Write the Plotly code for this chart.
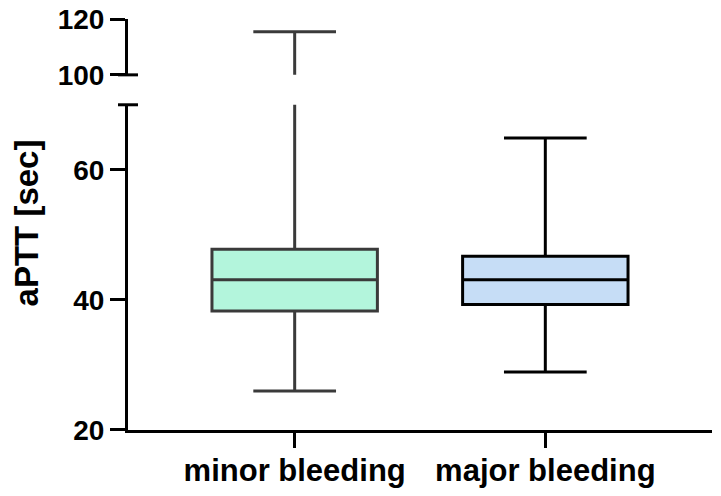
import plotly.graph_objects as go

# aPTT box plot values
groups = ["minor bleeding", "major bleeding"]
lower_whisker = [26.0, 28.9]
q1_vals = [38.3, 39.3]
median_vals = [43.1, 43.1]
q3_vals = [47.8, 46.7]
upper_whisker = [115.4, 64.9]

fills = ["#b3f5dc", "#c6ddf6"]
edges = ["#3a3a3a", "#000000"]

lower_ticks = [20, 40, 60]
upper_ticks = [100, 120]

FONT = "Liberation Sans, Arial, sans-serif"

fig = go.Figure()

# same boxes drawn on both segments of the broken axis
for yax in ["y", "y2"]:
    for i, g in enumerate(groups):
        fig.add_trace(go.Box(
            x=[g],
            q1=[q1_vals[i]],
            median=[median_vals[i]],
            q3=[q3_vals[i]],
            lowerfence=[lower_whisker[i]],
            upperfence=[upper_whisker[i]],
            width=0.66,
            whiskerwidth=0.5,
            fillcolor=fills[i],
            line=dict(color=edges[i], width=3),
            boxpoints=False,
            hoverinfo="skip",
            showlegend=False,
            xaxis="x",
            yaxis=yax,
        ))

low_top = 0.7913
up_bot = 0.8641

axis_style = dict(
    showline=True, linewidth=3, linecolor="black",
    ticks="outside", ticklen=15, tickwidth=3, tickcolor="black",
    showgrid=False, zeroline=False, automargin=False,
    ticklabeloverflow="allow",
    tickfont=dict(family=FONT, size=28, color="black", weight="bold"),
)

fig.update_layout(
    width=721,
    height=496,
    margin=dict(t=19, l=128, r=9, b=66),
    plot_bgcolor="white",
    paper_bgcolor="white",
    xaxis=dict(
        type="category",
        range=[-0.665, 1.665],
        anchor="y",
        showline=True, linewidth=3, linecolor="black",
        ticks="outside", ticklen=15, tickwidth=3, tickcolor="black",
        showgrid=False, automargin=False, ticklabelstandoff=-4,
        tickfont=dict(family=FONT, size=31, color="black", weight="bold"),
    ),
    yaxis=dict(domain=[0, low_top], range=[20, 70], tickvals=lower_ticks,
               anchor="x", **axis_style),
    yaxis2=dict(domain=[up_bot, 1], range=[100, 120], tickvals=upper_ticks,
                anchor="x", **axis_style),
    annotations=[dict(
        text="aPTT [sec]", textangle=-90,
        x=-0.1747, y=0.505, xref="paper", yref="paper",
        xanchor="center", yanchor="middle", showarrow=False,
        font=dict(family=FONT, size=33, color="black", weight="bold"),
    )],
)

# break marks on the y axis
for yy in [low_top, up_bot]:
    fig.add_shape(type="line", xref="paper", yref="paper",
                  x0=-0.0171, x1=0.0171, y0=yy, y1=yy,
                  line=dict(color="black", width=3))

# drop the default 8px page margin so the figure fills the window
fig.write_html("out.html", config={"displayModeBar": False},
               post_script="document.body.style.margin='0';")
